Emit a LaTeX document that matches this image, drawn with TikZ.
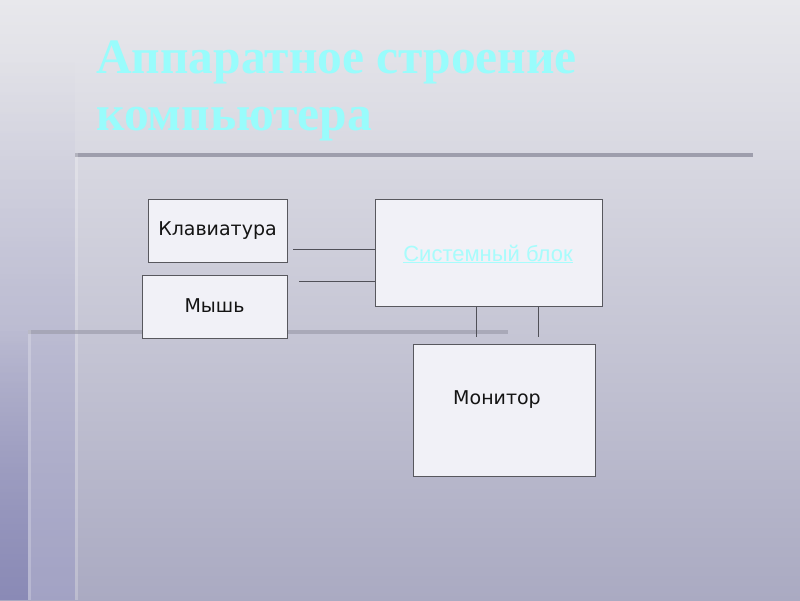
\documentclass[tikz,border=0pt]{standalone}
\usepackage{fontspec}
\usetikzlibrary{fadings}
\setmainfont{DejaVu Sans}
\newfontfamily\titlefont{Liberation Serif}
\newfontfamily\lblfont{DejaVu Sans}
\newfontfamily\arialfont{Liberation Sans}
\definecolor{bgtop}{HTML}{E8E8EC}
\definecolor{bgbot}{HTML}{AAAAC2}
\definecolor{leftblue}{HTML}{9A9AC8}
\definecolor{edgeblue}{HTML}{8080B0}
\definecolor{barcol}{HTML}{9E9EAC}
\definecolor{boxfill}{HTML}{F1F1F7}
\definecolor{boxline}{HTML}{58585E}
\definecolor{wirecol}{HTML}{505058}
\definecolor{titlecyan}{HTML}{99FCFC}
\definecolor{linkcyan}{HTML}{A8FCFC}
\tikzfading[name=fadeupA, top color=transparent!100, bottom color=transparent!55]
\tikzfading[name=fadeupB, top color=transparent!100, bottom color=transparent!30]
\begin{document}
\begin{tikzpicture}[x=1pt,y=-1pt,
  box/.style={draw=boxline, fill=boxfill, line width=1pt, inner sep=0pt},
  lbl/.style={font=\lblfont\fontsize{19}{22}\selectfont, text=black!92, inner sep=0pt},
  wire/.style={draw=wirecol, line width=0.9pt},
  bar/.style={draw=barcol, line width=4pt},
  glow/.style={draw=white, opacity=0.22, line width=3pt},
  ttl/.style={font=\titlefont\bfseries\fontsize{49.5}{57}\selectfont, inner sep=0pt, anchor=base west}]
\useasboundingbox (0,0) rectangle (800,600);
% background
\shade[top color=bgtop, bottom color=bgbot] (0,0) rectangle (800,600);
\fill[leftblue, path fading=fadeupA] (0,60) rectangle (75,600);
\fill[edgeblue, path fading=fadeupB] (0,330) rectangle (28,600);
% decorative lines
\draw[bar] (75,155) -- (753,155);
\draw[glow] (76,153) -- (76,600);
\draw[bar, opacity=0.7] (28,332) -- (508,332);
\draw[glow] (29,330) -- (29,600);
% title
\node[ttl, text=titlecyan] (t1) at (96,73) {Аппаратное строение};
\node[ttl, text=titlecyan] (t2) at (96,130) {компьютера};
% boxes
\node[box, minimum width=139pt, minimum height=63pt] (kbd) at (217.5,230.5) {};
\node[lbl] (kbdl) at (217.5,231) {Клавиатура};
\node[box, minimum width=145pt, minimum height=63pt] (mouse) at (214.5,306.5) {};
\node[lbl] (mousel) at (214.5,306) {Мышь};
\node[box, minimum width=227pt, minimum height=107pt] (sys) at (488.5,252.5) {};
\node[font=\arialfont\fontsize{22}{24}\selectfont, text=linkcyan, inner sep=0pt] (sysl) at (488,254) {\underline{Системный блок}};
\node[box, minimum width=182pt, minimum height=132pt] (mon) at (504,410) {};
\node[lbl] (monl) at (497,400) {Монитор};
% connectors
\coordinate (k1) at (293,249);
\coordinate (m1) at (299,281);
\coordinate (v1) at (476,337);
\coordinate (v2) at (538,337);
\draw[wire] (k1) -- (k1 -| sys.west);
\draw[wire] (m1) -- (m1 -| sys.west);
\draw[wire] (v1 |- sys.south) -- (v1);
\draw[wire] (v2 |- sys.south) -- (v2);
\end{tikzpicture}
\end{document}
